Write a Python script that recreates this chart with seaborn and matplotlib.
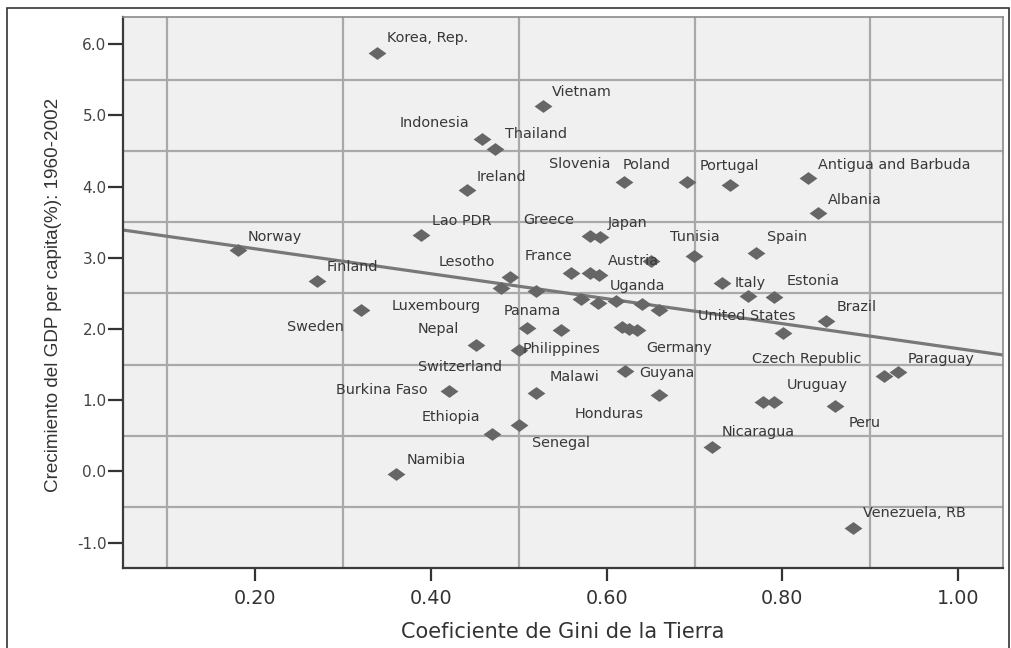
import numpy as np
import pandas as pd
import matplotlib
matplotlib.use("Agg")
import matplotlib.pyplot as plt
import seaborn as sns
from matplotlib.path import Path
from matplotlib.ticker import FixedLocator, FormatStrFormatter
from matplotlib.patches import Rectangle

# ---------------- data ----------------
countries = [
    "Korea, Rep.", "Vietnam", "Indonesia", "Thailand", "Ireland",
    "Slovenia", "Poland", "Portugal", "Antigua and Barbuda", "Albania",
    "Greece", "Japan", "Lao PDR", "Tunisia", "Spain",
    "Norway", "Finland", "Lesotho", "Luxembourg", "",
    "France", "", "", "Austria", "",
    "Uganda", "", "", "", "Italy",
    "", "Estonia", "Brazil", "United States", "Sweden",
    "Switzerland", "Panama", "Nepal", "Philippines", "",
    "", "Germany", "Burkina Faso", "Guyana", "Malawi",
    "Honduras", "Ethiopia", "Senegal", "Namibia", "Nicaragua",
    "Czech Republic", "Paraguay", "", "Uruguay", "Peru",
    "Venezuela, RB",
]
gini = [
    0.339, 0.528, 0.458, 0.473, 0.441,
    0.620, 0.691, 0.740, 0.829, 0.841,
    0.581, 0.592, 0.389, 0.699, 0.770,
    0.180, 0.270, 0.490, 0.480, 0.520,
    0.560, 0.581, 0.591, 0.651, 0.571,
    0.590, 0.611, 0.640, 0.660, 0.731,
    0.761, 0.790, 0.850, 0.801, 0.321,
    0.509, 0.548, 0.451, 0.500, 0.617,
    0.626, 0.634, 0.421, 0.621, 0.520,
    0.660, 0.470, 0.500, 0.360, 0.720,
    0.916, 0.932, 0.778, 0.791, 0.860,
    0.880,
]
growth = [
    5.88, 5.13, 4.67, 4.53, 3.95,
    4.06, 4.07, 4.02, 4.12, 3.63,
    3.31, 3.29, 3.32, 3.03, 3.06,
    3.11, 2.68, 2.73, 2.57, 2.54,
    2.79, 2.78, 2.76, 2.95, 2.42,
    2.37, 2.39, 2.35, 2.27, 2.65,
    2.46, 2.45, 2.11, 1.94, 2.26,
    2.02, 1.99, 1.77, 1.71, 2.03,
    2.00, 1.99, 1.13, 1.41, 1.10,
    1.08, 0.52, 0.65, -0.04, 0.35,
    1.34, 1.40, 0.98, 0.98, 0.92,
    -0.80,
]
x_ticks = [0.2, 0.4, 0.6, 0.8, 1.0]
y_ticks = [-1, 0, 1, 2, 3, 4, 5, 6]
x_label = "Coeficiente de Gini de la Tierra"
y_label = "Crecimiento del GDP per capita(%): 1960-2002"

# ---------------- layout / style ----------------
# label placement offsets in pixels (dx right, dy up) relative to each point
label_offsets = {
    "Korea, Rep.": (10, 15), "Vietnam": (9, 14), "Indonesia": (-82, 16),
    "Thailand": (10, 15), "Ireland": (10, 13), "Slovenia": (-75, 18),
    "Poland": (-64, 17), "Portugal": (-30, 19), "Antigua and Barbuda": (10, 13),
    "Albania": (9, 13), "Greece": (-67, 16), "Japan": (8, 14),
    "Lao PDR": (11, 14), "Tunisia": (-24, 19), "Spain": (11, 16),
    "Norway": (10, 13), "Finland": (10, 14), "Lesotho": (-71, 15),
    "Luxembourg": (-110, -18), "France": (-47, 17), "Austria": (-44, 0),
    "Uganda": (12, 17), "Italy": (13, 0), "Estonia": (13, 16),
    "Brazil": (10, 14), "United States": (-85, 17), "Sweden": (-74, -17),
    "Switzerland": (-109, -39), "Panama": (-57, 19), "Nepal": (-58, 16),
    "Philippines": (4, 1), "Germany": (10, -18), "Burkina Faso": (-113, 1),
    "Guyana": (14, -2), "Malawi": (13, 16), "Honduras": (-85, -19),
    "Ethiopia": (-71, 17), "Senegal": (13, -18), "Namibia": (11, 14),
    "Nicaragua": (10, 15), "Czech Republic": (-132, 17), "Paraguay": (9, 13),
    "Uruguay": (12, 17), "Peru": (13, -17), "Venezuela, RB": (10, 15),
}

df = pd.DataFrame({"country": countries, "gini": gini, "growth": growth})

sns.set_style("white")
plt.rcParams["font.family"] = ["DejaVu Sans"]

fig = plt.figure(figsize=(10.12, 6.48), dpi=100)
ax = fig.add_axes([0.1218, 0.1235, 0.8693, 0.8503])
ax.set_facecolor("#f0f0f1")

xlim = (0.05, 1.051)
ylim = (-1.355, 6.38)
ax.set_xlim(*xlim)
ax.set_ylim(*ylim)

# grid between the major ticks
ax.xaxis.set_major_locator(FixedLocator(x_ticks))
ax.yaxis.set_major_locator(FixedLocator(y_ticks))
ax.xaxis.set_minor_locator(FixedLocator([t - 0.1 for t in x_ticks]))
ax.yaxis.set_minor_locator(FixedLocator([t - 0.5 for t in y_ticks]))
ax.grid(False, which="major")
ax.grid(True, which="minor", color="#a9a9a9", linewidth=1.6)
ax.set_axisbelow(True)

# regression line (fit from the data, spanning the axis)
sns.regplot(data=df, x="gini", y="growth", scatter=False, ci=None,
            truncate=False, ax=ax,
            line_kws=dict(color="#787878", linewidth=2.3, zorder=2))

# diamonds (slightly flattened, like the original)
diamond = Path([(-1, 0), (0, 0.72), (1, 0), (0, -0.72), (-1, 0)],
               [Path.MOVETO, Path.LINETO, Path.LINETO, Path.LINETO, Path.CLOSEPOLY])
sns.scatterplot(data=df, x="gini", y="growth", marker=diamond, s=165,
                color="#666666", linewidth=0, ax=ax, zorder=3, legend=False)

ax.set_xlim(*xlim)
ax.set_ylim(*ylim)

for name, gx, gy in zip(countries, gini, growth):
    if not name:
        continue
    dx, dy = label_offsets[name]
    ax.annotate(name, (gx, gy), xytext=(dx, dy), textcoords="offset pixels",
                ha="left", va="center", fontsize=10.4, color="#383838",
                zorder=4)

ax.xaxis.set_major_formatter(FormatStrFormatter("%.2f"))
ax.yaxis.set_major_formatter(FormatStrFormatter("%.1f"))
ax.tick_params(which="minor", length=0)
ax.tick_params(axis="x", which="major", direction="out", length=9, width=1.6,
               color="#333333", labelsize=13.8, labelcolor="#333333", pad=6,
               bottom=True)
ax.tick_params(axis="y", which="major", direction="out", length=11, width=1.6,
               color="#333333", labelsize=11, labelcolor="#444444", pad=1,
               left=True)

for side in ["left", "bottom"]:
    ax.spines[side].set_color("#3a3a3a")
    ax.spines[side].set_linewidth(1.6)
for side in ["top", "right"]:
    ax.spines[side].set_color("#8a8a8a")
    ax.spines[side].set_linewidth(1.2)

ax.set_xlabel(x_label, fontsize=15, color="#333333")
ax.set_ylabel(y_label, fontsize=13.6, color="#333333",
              family=["Liberation Sans", "DejaVu Sans"])
ax.xaxis.set_label_coords(0.5, -0.098)
ax.yaxis.set_label_coords(-0.0697, 0.4964)

# outer frame of the exported picture
fig.add_artist(Rectangle((7 / 1012, -0.01), (1009 - 7) / 1012, 1 - 8 / 648 + 0.01,
                         transform=fig.transFigure, fill=False,
                         edgecolor="#333333", linewidth=1.2))

fig.savefig("out.png", dpi=100)
